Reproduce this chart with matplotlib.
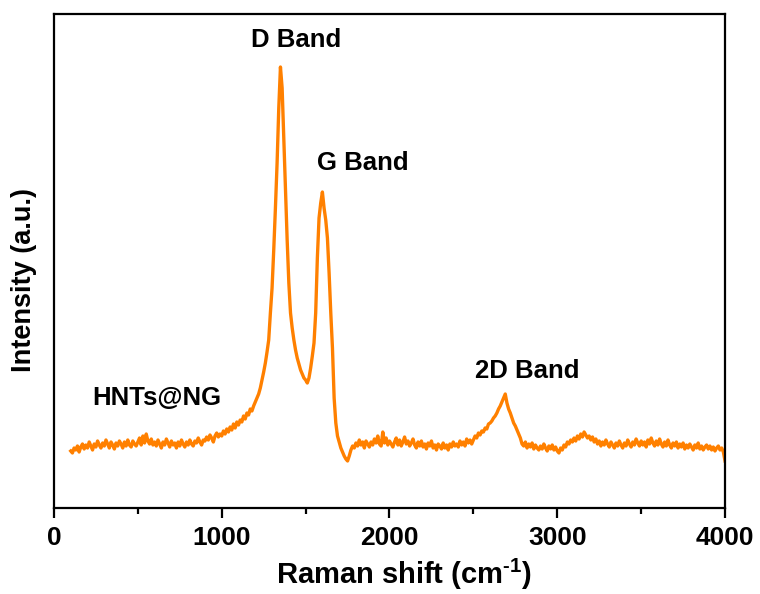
import matplotlib

matplotlib.use("Agg")

import matplotlib.pyplot as plt
import numpy as np
from matplotlib.ticker import MultipleLocator

plt.rcParams["font.family"] = ["Liberation Sans", "DejaVu Sans"]
plt.rcParams["font.weight"] = "bold"
plt.rcParams["mathtext.fontset"] = "custom"
plt.rcParams["mathtext.rm"] = "Liberation Sans:bold"
plt.rcParams["mathtext.bf"] = "Liberation Sans:bold"

# Raman shift sampled every 10 cm-1 from 100 to 4000
raman_shift = np.arange(100, 4001, 10)

# HNTs@NG spectrum, one row per 100 cm-1
intensity = [
    57, 55, 60, 58, 62, 56, 61, 64, 59, 63,            # 100
    60, 66, 62, 58, 64, 61, 67, 63, 60, 65,            # 200
    62, 68, 64, 60, 66, 63, 59, 65, 62, 67,            # 300
    64, 60, 66, 62, 68, 63, 61, 67, 64, 62,            # 400
    66, 70, 63, 72, 65, 74, 67, 64, 69, 63,            # 500
    66, 62, 68, 64, 60, 66, 63, 69, 65, 61,            # 600
    67, 63, 65, 60, 66, 62, 68, 64, 61, 66,            # 700
    63, 68, 64, 62, 67, 65, 70, 66, 63, 68,            # 800
    67, 71, 68, 73, 70, 66, 72, 75, 71, 74,            # 900
    72, 77, 74, 79, 76, 81, 78, 84, 80, 86,            # 1000
    83, 88, 86, 92, 89, 95, 93, 99, 97, 102,           # 1100
    106, 110, 114, 120, 128, 136, 145, 156, 168, 195,  # 1200
    220, 258, 300, 345, 400, 441, 420, 370, 320, 268,  # 1300
    225, 195, 180, 168, 158, 150, 144, 138, 134, 130,  # 1400
    128, 125, 130, 140, 152, 165, 195, 250, 290, 305,  # 1500
    316, 300, 288, 270, 235, 195, 160, 110, 85, 72,    # 1600
    66, 60, 56, 52, 49, 47, 52, 58, 62, 60,            # 1700
    65, 62, 68, 63, 66, 60, 67, 64, 61, 66,            # 1800
    63, 69, 65, 72, 64, 62, 76, 65, 70, 63,            # 1900
    67, 64, 61, 66, 70, 63, 68, 62, 66, 71,            # 2000
    64, 67, 62, 65, 69, 63, 60, 66, 62, 67,            # 2100
    61, 64, 59, 65, 62, 67, 60, 63, 58, 64,            # 2200
    62, 59, 65, 60, 63, 58, 64, 61, 66, 62,            # 2300
    64, 61, 67, 63, 66, 62, 69, 65, 68, 64,            # 2400
    68, 72, 70, 75, 73, 77, 76, 80, 79, 84,            # 2500
    85, 87, 90, 92, 95, 99, 102, 106, 110, 114,        # 2600
    105, 99, 95, 90, 85, 82, 78, 74, 70, 64,           # 2700
    62, 66, 60, 64, 61, 65, 59, 63, 60, 58,            # 2800
    62, 59, 64, 60, 57, 62, 59, 63, 58, 61,            # 2900
    57, 55, 60, 58, 63, 61, 66, 64, 68, 66,            # 3000
    70, 67, 72, 69, 74, 71, 76, 73, 70, 72,            # 3100
    68, 71, 66, 69, 64, 67, 62, 66, 63, 68,            # 3200
    64, 61, 66, 63, 60, 65, 62, 67, 63, 60,            # 3300
    65, 62, 68, 64, 61, 66, 63, 69, 65, 62,            # 3400
    67, 63, 66, 61, 68, 64, 70, 65, 62, 67,            # 3500
    63, 69, 64, 61, 66, 62, 68, 63, 60, 65,            # 3600
    62, 66, 60, 64, 61, 65, 59, 63, 60, 64,            # 3700
    61, 58, 63, 60, 65, 59, 62, 58, 61, 63,            # 3800
    59, 62, 58, 61, 57, 60, 62, 58, 60, 56,            # 3900
    47,                                                # 4000
]

band_labels = ["D Band", "G Band", "2D Band", "HNTs@NG"]
band_label_x = [1443, 1842, 2820, 614]
band_label_y = [468, 345, 137, 110]

fig = plt.figure(figsize=(7.6, 5.94), dpi=100)
ax = fig.add_axes([0.071, 0.1448, 0.883, 0.8316])

ax.plot(raman_shift, intensity, color="#ff8000", linewidth=2.4,
        solid_joinstyle="round")

for label, x, y in zip(band_labels, band_label_x, band_label_y):
    ax.text(x, y, label, ha="center", va="center",
            fontsize=18.5, fontweight="bold")

ax.set_xlim(0, 4000)
ax.set_ylim(0, 494)
ax.xaxis.set_major_locator(MultipleLocator(1000))
ax.xaxis.set_minor_locator(MultipleLocator(500))
ax.set_yticks([])

ax.tick_params(axis="x", which="major", direction="out", length=7,
               width=1.6, labelsize=19, pad=6)
ax.tick_params(axis="x", which="minor", direction="out", length=4,
               width=1.6)
for spine in ax.spines.values():
    spine.set_linewidth(1.6)

ax.set_xlabel(r"Raman shift (cm$^{\text{-}1}$)", fontsize=21,
              fontweight="bold")
ax.xaxis.set_label_coords(0.521, -0.099)
ax.set_ylabel("Intensity (a.u.)", fontsize=19.5, fontweight="bold")
ax.yaxis.set_label_coords(-0.026, 0.4615)

fig.savefig("out.png", dpi=100)
plt.close(fig)
